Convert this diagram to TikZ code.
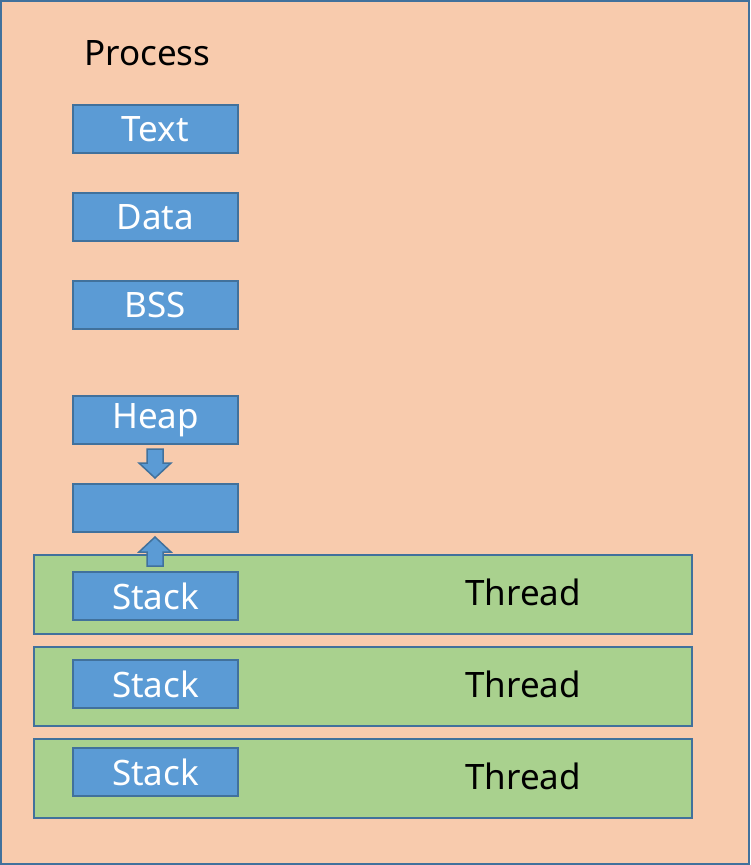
\documentclass[tikz,border=0pt]{standalone}
\usepackage{fontspec}
\setmainfont{Noto Sans}
\usetikzlibrary{positioning}
\definecolor{procfill}{HTML}{F8CBAD}
\definecolor{edge}{HTML}{41719C}
\definecolor{segfill}{HTML}{5B9BD5}
\definecolor{thrfill}{HTML}{A9D18E}
\tikzstyle{seg} = [rectangle, draw=edge, fill=segfill, line width=1.5pt, minimum width=165pt, minimum height=48pt, inner sep=0pt, text=white, font=\fontsize{35}{35}\selectfont]
\tikzstyle{thread} = [rectangle, draw=edge, fill=thrfill, line width=1.5pt, minimum width=658pt, minimum height=79pt, inner sep=0pt]
\tikzstyle{label} = [font=\fontsize{35}{35}\selectfont, inner sep=0pt]
\newcommand{\blockarrow}[2]{\filldraw[draw=edge, fill=segfill, line width=1.5pt, shift={(#1)}, yscale=#2]
  (-8,0) -- (8,0) -- (8,14) -- (16,14) -- (0,29) -- (-16,14) -- (-8,14) -- cycle;}

\begin{document}
\begin{tikzpicture}[x=1pt, y=-1pt]
	\useasboundingbox (0,0) rectangle (750,865);
	\filldraw[draw=edge, fill=procfill, line width=1.5pt] (1,1) rectangle (749,864);
	\node [label, anchor=west] (proc) at (84,53) {Process};
	% memory segments
	\node [seg] (text) at (155.5,129) {Text};
	\node [seg] (data) at (155.5,217) {Data};
	\node [seg] (bss)  at (155.5,305) {BSS};
	\node [seg] (heap) at (155.5,420) {Heap};
	\node [seg] (gap)  at (155.5,508) {};
	% threads
	\foreach \y/\s/\n in {594.5/596/1, 686.5/684/2, 778.5/772/3} {
		\node [thread] (thr\n) at (363,\y) {};
		\node [seg] (stack\n) at (155.5,\s) {Stack};
		\node [label] (lbl\n) at (523,\y-2) {Thread};
	}
	% growth arrows
	\blockarrow{155,449}{1}
	\blockarrow{155,566}{-1}
\end{tikzpicture}
\end{document}
